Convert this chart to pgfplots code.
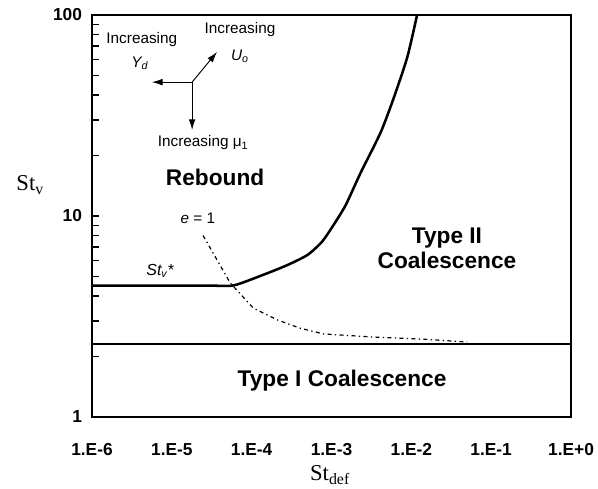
\documentclass[border=0pt]{standalone}
\usepackage{pgfplots}
\pgfplotsset{compat=1.18}
\usetikzlibrary{arrows.meta}
\usepackage{fontspec}
\setmainfont{Liberation Serif}
\setsansfont{Liberation Sans}
\begin{document}
\begin{tikzpicture}
\useasboundingbox (-69pt,-53.25pt) rectangle (379.5pt,312.75pt);
\begin{axis}[
  at={(0,0)}, anchor=south west,
  scale only axis, width=359.25pt, height=301.5pt,
  xmode=log, ymode=log,
  xmin=1e-6, xmax=1, ymin=1, ymax=100,
  axis line style={line width=1.5pt},
  xtick={1e-6,1e-5,1e-4,1e-3,1e-2,1e-1,1},
  xticklabels={1.E-6,1.E-5,1.E-4,1.E-3,1.E-2,1.E-1,1.E+0},
  x tick style={draw=none},
  minor x tick num=0,
  ytick={1,10,100}, yticklabels={1,10,100},
  ytick pos=left, tick align=inside,
  major tick length=5pt, minor tick length=5pt,
  y tick style={line width=1pt, black},
  tick label style={font=\sffamily\bfseries\fontsize{13}{15}\selectfont},
  /pgf/number format/assume math mode=true,
  xticklabel style={anchor=north, text height=10pt, text depth=1pt, yshift=-15pt},
  yticklabel style={xshift=-4pt},
  clip=false,
]
\addplot[black, line width=1.9pt, smooth, tension=0.4] coordinates {
 (1e-6,4.5) (3e-5,4.5) (6e-5,4.52) (1.4e-4,5.1) (2.8e-4,5.7) (5e-4,6.4) (7.5e-4,7.4) (1e-3,8.7) (1.5e-3,11.3) (2.3e-3,16.3) (4.1e-3,25.9) (5.9e-3,37.8) (8.9e-3,61.7) (1.18e-2,100)};
\addplot[black, line width=1.6pt] coordinates {(1e-6,2.31) (1,2.31)};
\addplot[black, line width=0.9pt, dash pattern=on 3pt off 2.5pt on 1pt off 2.5pt] coordinates {
 (2.46e-5,8.0) (5.4e-5,4.64) (1.05e-4,3.48) (2.1e-4,3.04) (4e-4,2.77) (7.9e-4,2.59) (3.3e-3,2.50) (1.4e-2,2.44) (5e-2,2.36)};

\node[font=\sffamily\fontsize{11.5}{13}\selectfont] at (rel axis cs:0.104,0.938) {Increasing};
\node[font=\sffamily\itshape\fontsize{11.5}{13}\selectfont] at (rel axis cs:0.100,0.880) {Y\textsubscript{d}};
\node[font=\sffamily\fontsize{11.5}{13}\selectfont] at (rel axis cs:0.309,0.963) {Increasing};
\node[font=\sffamily\itshape\fontsize{11.5}{13}\selectfont] at (rel axis cs:0.309,0.897) {U\textsubscript{o}};
\node[font=\sffamily\fontsize{11.5}{13}\selectfont] at (rel axis cs:0.232,0.682) {Increasing μ\textsubscript{1}};
\draw[line width=0.7pt, -{Latex[length=8pt,width=5pt]}] (rel axis cs:0.209,0.833) -- (rel axis cs:0.125,0.833);
\draw[line width=0.7pt, -{Latex[length=8pt,width=5pt]}] (rel axis cs:0.209,0.833) -- (rel axis cs:0.209,0.714);
\draw[line width=0.7pt, -{Latex[length=8pt,width=5pt]}] (rel axis cs:0.209,0.833) -- (rel axis cs:0.261,0.908);

\node[font=\sffamily\bfseries\fontsize{17}{18}\selectfont] at (rel axis cs:0.257,0.597) {Rebound};
\node[font=\sffamily\fontsize{11.5}{13}\selectfont] at (rel axis cs:0.221,0.495) {\textit{e} = 1};
\node[font=\sffamily\itshape\fontsize{12}{14}\selectfont] at (rel axis cs:0.142,0.364) {St\textsubscript{v}*};
\node[font=\sffamily\bfseries\fontsize{17}{18}\selectfont, align=center] at (rel axis cs:0.741,0.420) {Type II\\[1pt]Coalescence};
\node[font=\sffamily\bfseries\fontsize{17}{18}\selectfont] at (rel axis cs:0.522,0.090) {Type I Coalescence};

\node[font=\fontsize{17}{19}\selectfont] at (rel axis cs:-0.129,0.577) {St\textsubscript{v}};
\node[font=\fontsize{17}{19}\selectfont] at (rel axis cs:0.497,-0.144) {St\textsubscript{def}};
\end{axis}
\end{tikzpicture}
\end{document}
